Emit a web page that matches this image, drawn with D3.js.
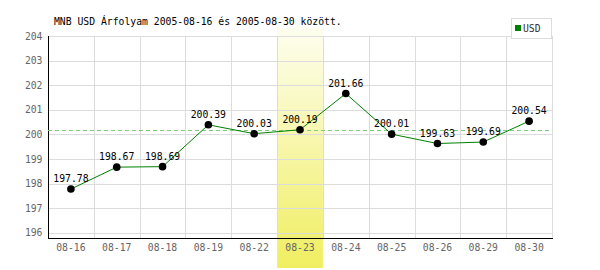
<!DOCTYPE html>
<html><head><meta charset="utf-8">
<script src="https://cdn.jsdelivr.net/npm/d3@7"></script>
<style>
html,body{margin:0;padding:0;background:#fff;}
svg text{font-family:"DejaVu Sans Mono","Liberation Mono",monospace;}
</style></head>
<body><svg id="c" width="600" height="270"></svg>
<script>
const dates = ["08-16","08-17","08-18","08-19","08-22","08-23","08-24","08-25","08-26","08-29","08-30"];
const values = [197.78,198.67,198.69,200.39,200.03,200.19,201.66,200.01,199.63,199.69,200.54];
const yTicks = [196,197,198,199,200,201,202,203,204];
const highlightDate = "08-23";
const title = "MNB USD Árfolyam 2005-08-16 és 2005-08-30 között.";
const seriesName = "USD";

const FONT = "DejaVu Sans Mono";
const FS = "9.75px";
const svg = d3.select("#c");
const m = {l:48, r:552, t:36, b:238};
const x = d3.scaleBand().domain(dates).range([m.l, m.r]);
const y = d3.scaleLinear().domain([195.79, 204]).range([m.b, m.t]);

const defs = svg.append("defs");
const g = defs.append("linearGradient").attr("id","hl").attr("x1",0).attr("y1",0).attr("x2",0).attr("y2",1);
g.append("stop").attr("offset","0%").attr("stop-color","#fefef0");
g.append("stop").attr("offset","100%").attr("stop-color","#f0ee60");

// highlight band
svg.append("rect").attr("x", x(highlightDate)).attr("y", 28)
  .attr("width", x.bandwidth()).attr("height", 268-28).attr("fill","url(#hl)");

// grid
svg.append("g").selectAll("line").data(yTicks).join("line")
  .attr("x1", m.l).attr("x2", m.r).attr("y1", d=>Math.round(y(d))+0.5).attr("y2", d=>Math.round(y(d))+0.5)
  .attr("stroke","#dcdcdc");
svg.append("g").selectAll("line").data(dates.slice(1).concat(["__end"])).join("line")
  .attr("x1", d=> d==="__end" ? m.r+0.5 : Math.round(x(d))+0.5)
  .attr("x2", d=> d==="__end" ? m.r+0.5 : Math.round(x(d))+0.5)
  .attr("y1", m.t).attr("y2", m.b).attr("stroke","#dcdcdc");

// axes
const yAxis = svg.append("g").attr("transform",`translate(${m.l+0.5},0)`)
  .call(d3.axisLeft(y).tickValues(yTicks).tickSize(0).tickPadding(6));
yAxis.select(".domain").attr("d", `M0,${m.t}V${m.b}`).attr("stroke","#000");
yAxis.selectAll("text").attr("fill","#666").attr("font-size",FS).attr("font-family",FONT);
const xAxis = svg.append("g").attr("transform",`translate(0,${m.b+0.5})`)
  .call(d3.axisBottom(x).tickSize(0).tickPadding(6));
xAxis.select(".domain").attr("d", `M${m.l},0H${m.r+1}`).attr("stroke","#000");
xAxis.selectAll("text").attr("fill","#666").attr("font-size",FS).attr("font-family",FONT);

// dashed reference line
const hv = values[dates.indexOf(highlightDate)];
const hy = Math.round(y(hv))+0.5;
svg.append("line").attr("x1", m.l).attr("x2", m.r).attr("y1", hy).attr("y2", hy)
  .attr("stroke","#7fcc7f").attr("stroke-dasharray","4,3");

const cx = d => x(d) + x.bandwidth()/2;
const pts = dates.map((d,i)=>({d, v:values[i]}));
svg.append("path").datum(pts)
  .attr("d", d3.line().x(p=>cx(p.d)).y(p=>y(p.v)))
  .attr("fill","none").attr("stroke","#008000").attr("stroke-width",1);
svg.append("g").selectAll("circle").data(pts).join("circle")
  .attr("cx", p=>cx(p.d)).attr("cy", p=>y(p.v)).attr("r",3.8).attr("fill","#000");
svg.append("g").selectAll("text").data(pts).join("text")
  .attr("x", p=>cx(p.d)).attr("y", p=>y(p.v)-7).attr("text-anchor","middle")
  .attr("font-size",FS).attr("fill","#000").text(p=>p.v.toFixed(2));

// title
svg.append("text").attr("x",54).attr("y",25).attr("font-size",FS).attr("fill","#000").text(title);

// legend
svg.append("rect").attr("x",511.5).attr("y",18.5).attr("width",40).attr("height",20)
  .attr("fill","#fff").attr("stroke","#dcdcdc");
svg.append("rect").attr("x",515).attr("y",25).attr("width",6).attr("height",6).attr("fill","#008000");
svg.append("text").attr("x",523).attr("y",32).attr("font-size",FS).attr("fill","#333").text(seriesName);
</script></body></html>
